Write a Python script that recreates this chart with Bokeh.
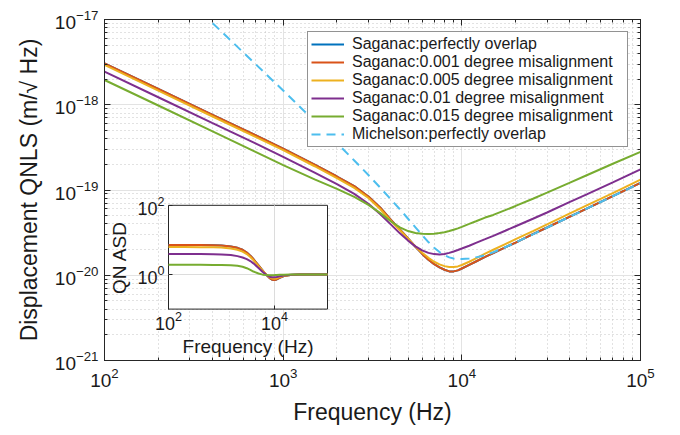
from bokeh.plotting import figure
from bokeh.models import (LogAxis, Range1d, LogScale, FixedTicker, LogTicker,
                          Legend, LegendItem, CustomJSTickFormatter)
from bokeh.embed import file_html
from bokeh.resources import INLINE
import math

# ---------------- data ----------------
freq = [100, 200, 400, 700, 1000, 1500, 2000, 2500, 3000, 3500, 4000, 4500,
        5000, 5500, 6000, 6500, 7000, 7500, 8000, 8500, 9000, 9500, 10000,
        11000, 12000, 13500, 15000, 17500, 20000, 25000, 30000, 40000, 50000,
        70000, 100000]

sag_perfect = [3.06e-18, 1.53e-18, 7.67e-19, 4.39e-19, 3.06e-19, 1.99e-19, 1.44e-19,
               1.11e-19, 8.4e-20, 6.2e-20, 4.5e-20, 3.45e-20, 2.7e-20, 2.15e-20,
               1.78e-20, 1.52e-20, 1.35e-20, 1.24e-20, 1.16e-20, 1.11e-20, 1.11e-20,
               1.14e-20, 1.2e-20, 1.32e-20, 1.45e-20, 1.64e-20, 1.82e-20, 2.12e-20,
               2.42e-20, 3.03e-20, 3.63e-20, 4.84e-20, 6.05e-20, 8.47e-20, 1.21e-19]
sag_0001 = [3.06e-18, 1.53e-18, 7.67e-19, 4.39e-19, 3.06e-19, 1.99e-19, 1.44e-19,
            1.11e-19, 8.4e-20, 6.2e-20, 4.5e-20, 3.45e-20, 2.7e-20, 2.15e-20,
            1.78e-20, 1.52e-20, 1.35e-20, 1.24e-20, 1.16e-20, 1.11e-20, 1.11e-20,
            1.14e-20, 1.2e-20, 1.32e-20, 1.45e-20, 1.64e-20, 1.82e-20, 2.12e-20,
            2.42e-20, 3.03e-20, 3.63e-20, 4.84e-20, 6.05e-20, 8.47e-20, 1.21e-19]
sag_0005 = [2.93e-18, 1.465e-18, 7.33e-19, 4.2e-19, 2.93e-19, 1.9e-19, 1.38e-19,
            1.06e-19, 8.05e-20, 5.95e-20, 4.35e-20, 3.37e-20, 2.68e-20, 2.18e-20,
            1.84e-20, 1.6e-20, 1.44e-20, 1.34e-20, 1.28e-20, 1.25e-20, 1.25e-20,
            1.27e-20, 1.32e-20, 1.44e-20, 1.58e-20, 1.79e-20, 1.99e-20, 2.32e-20,
            2.65e-20, 3.3e-20, 3.96e-20, 5.28e-20, 6.6e-20, 9.2e-20, 1.32e-19]
sag_001 = [2.45e-18, 1.225e-18, 6.13e-19, 3.52e-19, 2.45e-19, 1.6e-19, 1.17e-19,
           9.0e-20, 6.9e-20, 5.2e-20, 3.95e-20, 3.1e-20, 2.55e-20, 2.18e-20,
           1.96e-20, 1.83e-20, 1.77e-20, 1.75e-20, 1.78e-20, 1.83e-20, 1.9e-20,
           1.98e-20, 2.06e-20, 2.22e-20, 2.4e-20, 2.65e-20, 2.9e-20, 3.33e-20,
           3.76e-20, 4.6e-20, 5.45e-20, 7.2e-20, 8.9e-20, 1.23e-19, 1.75e-19]
sag_0015 = [1.95e-18, 9.8e-19, 4.9e-19, 2.8e-19, 1.96e-19, 1.33e-19, 1.03e-19,
            8.3e-20, 6.7e-20, 5.35e-20, 4.3e-20, 3.65e-20, 3.3e-20, 3.13e-20,
            3.06e-20, 3.05e-20, 3.07e-20, 3.13e-20, 3.2e-20, 3.3e-20, 3.42e-20,
            3.55e-20, 3.7e-20, 4.0e-20, 4.3e-20, 4.75e-20, 5.1e-20, 5.8e-20,
            6.5e-20, 7.9e-20, 9.3e-20, 1.21e-19, 1.49e-19, 2.03e-19, 2.8e-19]
michelson = [1.5e-16, 3.7e-17, 9.2e-18, 3.0e-18, 1.47e-18, 6.4e-19, 3.55e-19,
             2.22e-19, 1.5e-19, 1.06e-19, 7.8e-20, 5.95e-20, 4.6e-20, 3.65e-20,
             2.95e-20, 2.45e-20, 2.1e-20, 1.87e-20, 1.72e-20, 1.62e-20, 1.57e-20,
             1.55e-20, 1.55e-20, 1.57e-20, 1.62e-20, 1.72e-20, 1.86e-20, 2.13e-20,
             2.42e-20, 3.02e-20, 3.62e-20, 4.83e-20, 6.04e-20, 8.45e-20, 1.21e-19]

# inset: QN ASD ratio
freq_in = [100, 200, 400, 700, 1000, 1500, 2000, 2500, 3000, 3500, 4000, 5000,
           6000, 7000, 8000, 9000, 10000, 11000, 12500, 15000, 20000, 30000,
           50000, 100000]
in_perfect = [7.1, 7.1, 7.08, 7.0, 6.85, 6.45, 5.9, 5.2, 4.3, 3.5, 2.8, 1.85,
              1.3, 0.98, 0.8, 0.71, 0.69, 0.72, 0.8, 0.9, 0.97, 0.995, 1.0, 1.0]
in_0001 = [7.1, 7.1, 7.08, 7.0, 6.85, 6.45, 5.9, 5.2, 4.3, 3.5, 2.8, 1.85,
           1.3, 0.98, 0.8, 0.71, 0.69, 0.72, 0.8, 0.9, 0.97, 0.995, 1.0, 1.0]
in_0005 = [6.2, 6.2, 6.18, 6.1, 6.0, 5.65, 5.2, 4.6, 3.9, 3.2, 2.6, 1.75,
           1.27, 1.0, 0.84, 0.77, 0.75, 0.77, 0.84, 0.92, 0.97, 0.995, 1.0, 1.0]
in_001 = [3.9, 3.9, 3.89, 3.86, 3.8, 3.65, 3.4, 3.1, 2.78, 2.45, 2.1, 1.55,
          1.18, 0.98, 0.86, 0.83, 0.83, 0.85, 0.89, 0.94, 0.98, 1.0, 1.0, 1.0]
in_0015 = [1.9, 1.9, 1.9, 1.89, 1.88, 1.86, 1.8, 1.68, 1.52, 1.36, 1.22, 1.07,
           0.99, 0.96, 0.955, 0.955, 0.96, 0.97, 0.98, 0.99, 1.0, 1.0, 1.0, 1.0]

labels = ["Saganac:perfectly overlap",
          "Saganac:0.001 degree misalignment",
          "Saganac:0.005 degree misalignment",
          "Saganac:0.01 degree misalignment",
          "Saganac:0.015 degree misalignment",
          "Michelson:perfectly overlap"]

x_lim = (1e2, 1e5)
y_lim = (1e-21, 1e-17)
inset_xlim = (1e2, 1e5)
inset_ylim = (1e-1, 1e2)
inset_xticks = [1e2, 1e4]
inset_yticks = [1e0, 1e2]
inset_xgrid = [1e4]
inset_ygrid = [1e0]

# ---------------- styles / layout ----------------
colors = ["#0072BD", "#D95319", "#EDB120", "#7E2F8E", "#77AC30", "#4DBEEE"]
FONT = "Liberation Sans"
TXT = "#1a1a1a"
AX = "#262626"

W, H = 672, 427
BL, BR, BT, BB = 104, 32, 19, 63
FW, FH = W - BL - BR, H - BT - BB           # frame size in px
# inset box inside frame (px from frame left / frame top)
IL, IR, IT, IB = 64, 223, 188, 293

dx = (IR - IL) / (math.log10(inset_xlim[1]) - math.log10(inset_xlim[0]))
dy = (IB - IT) / (math.log10(inset_ylim[1]) - math.log10(inset_ylim[0]))
xs0 = math.log10(inset_xlim[0]) - IL / dx
ys0 = math.log10(inset_ylim[0]) - (FH - IB) / dy

p = figure(width=W, height=H, x_axis_type="log", y_axis_type="log",
           x_range=Range1d(*x_lim), y_range=Range1d(*y_lim),
           output_backend="svg", toolbar_location=None,
           min_border_left=BL, min_border_right=BR,
           min_border_top=BT, min_border_bottom=BB,
           background_fill_color="white", border_fill_color="white")
p.outline_line_color = AX
p.outline_line_width = 1

p.extra_x_ranges = {"inset": Range1d(10 ** xs0, 10 ** (xs0 + FW / dx))}
p.extra_y_ranges = {"inset": Range1d(10 ** ys0, 10 ** (ys0 + FH / dy))}
p.extra_x_scales = {"inset": LogScale()}
p.extra_y_scales = {"inset": LogScale()}


def style_axis(ax):
    ax.axis_line_color = AX
    ax.major_tick_line_color = AX
    ax.minor_tick_line_color = AX
    ax.major_tick_in = 6
    ax.major_tick_out = 0
    ax.minor_tick_in = 3
    ax.minor_tick_out = 0
    ax.major_label_text_font = FONT
    ax.major_label_text_color = TXT
    ax.axis_label_text_font = FONT
    ax.axis_label_text_color = TXT
    ax.axis_label_text_font_style = "normal"
    ax.major_label_text_font_size = "19px"
    ax.axis_label_text_font_size = "23px"


p.xaxis.ticker = LogTicker(num_minor_ticks=10)
p.yaxis.ticker = LogTicker(num_minor_ticks=10)
style_axis(p.xaxis[0])
style_axis(p.yaxis[0])
p.xaxis.axis_label = "Frequency (Hz)"
p.yaxis.axis_label = "Displacement QNLS (m/\u221a Hz)"
p.xaxis.major_label_standoff = 7
p.yaxis.major_label_standoff = 6
p.xaxis.axis_label_standoff = 9
p.yaxis.axis_label_standoff = 10

blank = CustomJSTickFormatter(code="return ''")
top_ax = LogAxis(ticker=LogTicker(num_minor_ticks=10), formatter=blank)
style_axis(top_ax)
top_ax.major_label_standoff = 0
p.add_layout(top_ax, "above")
right_ax = LogAxis(ticker=LogTicker(num_minor_ticks=10), formatter=blank)
style_axis(right_ax)
right_ax.major_label_standoff = 0
p.add_layout(right_ax, "right")

for g in (p.xgrid[0], p.ygrid[0]):
    g.grid_line_color = "#e3e3e3"
    g.grid_line_width = 1
    g.minor_grid_line_color = "#c4c4c4"
    g.minor_grid_line_dash = "1 3"
    g.minor_grid_line_width = 1

# ---------------- main curves ----------------
series = [sag_perfect, sag_0001, sag_0005, sag_001, sag_0015, michelson]
rs = []
for i, ys in enumerate(series):
    kw = dict(line_color=colors[i], line_width=2)
    if i == 5:
        kw["line_dash"] = "9 6"
    rs.append(p.line(freq, ys, **kw))

# ---------------- inset ----------------
ins = dict(x_range_name="inset", y_range_name="inset")
p.quad(left=[inset_xlim[0]], right=[inset_xlim[1]],
       bottom=[inset_ylim[0]], top=[inset_ylim[1]],
       fill_color="white", line_color=AX, line_width=1, **ins)
p.segment(x0=inset_xgrid, x1=inset_xgrid,
          y0=[inset_ylim[0]] * len(inset_xgrid), y1=[inset_ylim[1]] * len(inset_xgrid),
          line_color="#dcdcdc", line_width=1, **ins)
p.segment(x0=[inset_xlim[0]] * len(inset_ygrid), x1=[inset_xlim[1]] * len(inset_ygrid),
          y0=inset_ygrid, y1=inset_ygrid,
          line_color="#dcdcdc", line_width=1, **ins)
for i, ys in enumerate([in_perfect, in_0001, in_0005, in_001, in_0015]):
    p.line(freq_in, ys, line_color=colors[i], line_width=2, **ins)


def inset_axis(ax, label):
    ax.axis_line_color = None
    ax.major_tick_line_color = AX
    ax.major_tick_in = 4
    ax.major_tick_out = 0
    ax.minor_tick_line_color = None
    ax.major_label_text_font = FONT
    ax.major_label_text_color = TXT
    ax.major_label_text_font_size = "18px"
    ax.axis_label = label
    ax.axis_label_text_font = FONT
    ax.axis_label_text_color = TXT
    ax.axis_label_text_font_style = "normal"
    ax.axis_label_text_font_size = "19px"


ixa = LogAxis(fixed_location=inset_ylim[0], bounds=inset_xlim,
              ticker=FixedTicker(ticks=inset_xticks, minor_ticks=[]), **ins)
inset_axis(ixa, "Frequency (Hz)")
ixa.major_label_standoff = 2
ixa.axis_label_standoff = 2
p.add_layout(ixa, "below")

iya = LogAxis(fixed_location=inset_xlim[0], bounds=inset_ylim,
              ticker=FixedTicker(ticks=inset_yticks, minor_ticks=[]), **ins)
inset_axis(iya, "QN ASD")
iya.major_label_standoff = 4
iya.axis_label_standoff = 4
p.add_layout(iya, "left")

# ---------------- legend ----------------
legend = Legend(items=[LegendItem(label=labels[i], renderers=[rs[i]]) for i in range(6)],
                location="top_right", margin=12, padding=3, spacing=0,
                label_text_font=FONT, label_text_font_size="16px",
                label_text_color=TXT, glyph_width=33, glyph_height=16,
                label_height=16, label_width=272, label_standoff=8,
                border_line_color=AX, border_line_width=1,
                background_fill_color="white", background_fill_alpha=1.0)
p.add_layout(legend)

open("out.html", "w").write(file_html(p, INLINE))
